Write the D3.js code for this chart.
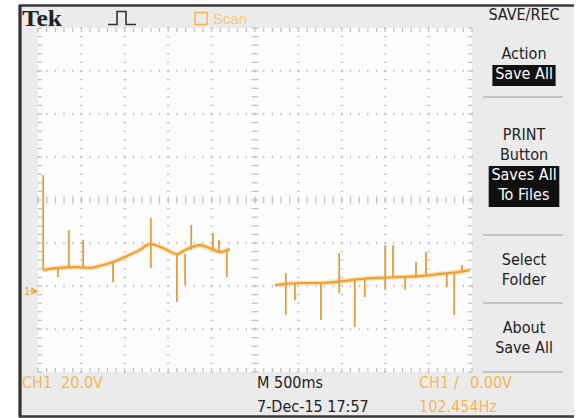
<!DOCTYPE html>
<html>
<head>
<meta charset="utf-8">
<script src="https://cdn.jsdelivr.net/npm/d3@7"></script>
<style>
  html, body { margin: 0; padding: 0; background: #fff; }
  svg { display: block; }
</style>
</head>
<body>
<div id="scope"></div>
<script>

// trace, in graticule divisions (time 0..10, volts -4..4)
var seg1Time = [0.12, 0.46, 0.90, 1.20, 1.43, 1.73, 2.05, 2.35, 2.58, 2.81, 2.97, 3.20, 3.39, 3.57, 3.73, 3.96, 4.19, 4.42];
var seg1Volt = [-1.63, -1.58, -1.56, -1.58, -1.53, -1.44, -1.30, -1.16, -1.02, -1.09, -1.16, -1.26, -1.16, -1.09, -1.05, -1.12, -1.21, -1.14];
var seg2Time = [5.46, 6.04, 6.50, 7.07, 7.42, 7.88, 8.34, 8.80, 9.26, 9.72, 9.95];
var seg2Volt = [-1.98, -1.93, -1.93, -1.88, -1.84, -1.81, -1.79, -1.77, -1.72, -1.67, -1.63];

// glitches: time, top, bottom
var spikeTime   = [0.12, 0.46, 0.71, 1.04, 1.73, 2.60, 3.20, 3.39, 3.53, 4.03, 4.17, 4.35,
                   5.71, 5.92, 6.52, 6.94, 7.30, 7.53, 8.00, 8.18, 8.46, 8.71, 8.94, 9.42, 9.59, 9.77];
var spikeTop    = [0.58, -1.58, -0.70, -0.93, -1.44, -0.42, -1.26, -1.26, -0.58, -0.77, -0.93, -1.16,
                   -1.70, -1.93, -1.93, -1.23, -1.84, -1.84, -1.05, -1.05, -1.79, -1.44, -1.21, -1.72, -1.72, -1.51];
var spikeBottom = [-1.63, -1.79, -1.58, -1.58, -1.91, -1.58, -2.37, -1.98, -1.16, -1.14, -1.21, -1.79,
                   -2.67, -2.33, -2.79, -2.16, -2.95, -2.26, -2.09, -1.79, -2.09, -1.77, -1.77, -2.02, -2.67, -1.67];

var groundLevel = -2.12;

var menuTitle = 'SAVE/REC';
var menuItems = [
    { lines: ['Action'], boxed: ['Save All'] },
    { lines: ['PRINT', 'Button'], boxed: ['Saves All', 'To Files'] },
    { lines: ['Select', 'Folder'], boxed: [] },
    { lines: ['About', 'Save All'], boxed: [] }
];

var chLabel = ['CH1', '20.0V'];
var timeBase = 'M 500ms';
var dateStamp = '7-Dec-15 17:57';
var trigLabel = ['CH1', '/', '0.00V'];
var freqLabel = '102.454Hz';

var width = 577,
    height = 418;

var orange = '#f0a032',
    paleOrange = '#f6b656',
    dotGrey = '#bdbdbd';

var svg = d3.select('#scope').append('svg')
    .attr('width', width)
    .attr('height', height);

/* frame + panel */
svg.append('rect')
    .attr('x', 19).attr('y', 5)
    .attr('width', 555).attr('height', 412)
    .attr('fill', '#ebebeb');

svg.append('path')
    .attr('d', 'M574,5.5H20V416.5H574')
    .attr('fill', 'none')
    .attr('stroke', '#3a3a3a')
    .attr('stroke-width', 2.5);

svg.append('line')
    .attr('x1', 20).attr('x2', 20).attr('y1', 5).attr('y2', 417)
    .attr('stroke', '#333').attr('stroke-width', 3);

/* graticule */
var x = d3.scaleLinear().domain([0, 10]).range([38, 472]);
var y = d3.scaleLinear().domain([-4, 4]).range([372, 28]);

svg.append('rect')
    .attr('x', x(0)).attr('y', y(4))
    .attr('width', x(10) - x(0)).attr('height', y(-4) - y(4))
    .attr('fill', '#fdfdfd');

var grid = svg.append('g').attr('fill', dotGrey);
var minorX = d3.range(0, 50.5).map(function(d) { return d / 5; });
var minorY = d3.range(0, 40.5).map(function(d) { return d / 5 - 4; });

// vertical lines
d3.range(0, 11).forEach(function(i) {
    var len = (i === 5) ? 7 : (i === 0 || i === 10) ? 4 : 2.5;
    grid.selectAll(null).data(minorY).enter().append('rect')
        .attr('x', function() {
            if (i === 0) return x(i);
            if (i === 10) return x(i) - len;
            return x(i) - len / 2;
        })
        .attr('y', function(d) { return y(d) - 0.6; })
        .attr('width', len)
        .attr('height', 1.2);
});

// horizontal lines
d3.range(-4, 5).forEach(function(j) {
    var len = (j === 0) ? 7 : (j === -4 || j === 4) ? 4 : 2.5;
    grid.selectAll(null).data(minorX).enter().append('rect')
        .attr('x', function(d) { return x(d) - 0.6; })
        .attr('y', function() {
            if (j === 4) return y(j);
            if (j === -4) return y(j) - len;
            return y(j) - len / 2;
        })
        .attr('width', 1.2)
        .attr('height', len);
});

/* trace */
var line = d3.line()
    .x(function(d) { return x(d[0]); })
    .y(function(d) { return y(d[1]); })
    .curve(d3.curveMonotoneX);

var segs = [d3.zip(seg1Time, seg1Volt), d3.zip(seg2Time, seg2Volt)];

var trace = svg.append('g');

trace.selectAll('.glow').data(segs).enter().append('path')
    .attr('d', line)
    .attr('fill', 'none')
    .attr('stroke', '#fbd79c')
    .attr('stroke-width', 5)
    .attr('stroke-opacity', 0.7);

trace.selectAll('.spike').data(spikeTime).enter().append('line')
    .attr('x1', function(d) { return x(d); })
    .attr('x2', function(d) { return x(d); })
    .attr('y1', function(d, i) { return y(spikeTop[i]); })
    .attr('y2', function(d, i) { return y(spikeBottom[i]); })
    .attr('stroke', '#e39c3a')
    .attr('stroke-width', 1.8);

trace.selectAll('.seg').data(segs).enter().append('path')
    .attr('d', line)
    .attr('fill', 'none')
    .attr('stroke', orange)
    .attr('stroke-width', 2.2);

/* ground marker */
svg.append('text')
    .attr('x', 24).attr('y', y(groundLevel) + 4)
    .attr('font-family', 'Liberation Sans, sans-serif')
    .attr('font-size', 11)
    .attr('fill', orange)
    .text('1');
svg.append('path')
    .attr('d', 'M31,' + (y(groundLevel) - 3) + 'L37,' + y(groundLevel) + 'L31,' + (y(groundLevel) + 3) + 'M30,' + y(groundLevel) + 'L37,' + y(groundLevel))
    .attr('fill', 'none')
    .attr('stroke', orange)
    .attr('stroke-width', 1.3);

/* top bar */
svg.append('text')
    .attr('x', 22).attr('y', 26)
    .attr('font-family', 'Liberation Serif, serif')
    .attr('font-weight', 'bold')
    .attr('font-size', 24)
    .attr('textLength', 40)
    .attr('lengthAdjust', 'spacingAndGlyphs')
    .attr('fill', '#222')
    .text('Tek');

svg.append('path')
    .attr('d', 'M108,24.5H117V11.5H126V24.5H136')
    .attr('fill', 'none')
    .attr('stroke', '#333')
    .attr('stroke-width', 1.6);

svg.append('rect')
    .attr('x', 195).attr('y', 12.5)
    .attr('width', 12).attr('height', 12)
    .attr('fill', 'none')
    .attr('stroke', paleOrange)
    .attr('stroke-width', 1.6);

svg.append('text')
    .attr('x', 213).attr('y', 24)
    .attr('font-family', 'Liberation Sans, sans-serif')
    .attr('font-size', 15)
    .attr('fill', '#f8c878')
    .text('Scan');

/* menu */
var font = 'Liberation Sans Narrow, DejaVu Sans Condensed, Liberation Sans, sans-serif';
var menu = svg.append('g')
    .attr('font-family', font)
    .attr('font-size', 16)
    .attr('text-anchor', 'middle');

var menuX = 524;

menu.append('text')
    .attr('x', menuX).attr('y', 20)
    .attr('fill', '#222')
    .text(menuTitle);

var itemTops = [59, 140, 265, 333];
var separators = [97, 235, 303, 372];

menuItems.forEach(function(item, k) {
    var base = itemTops[k];
    item.lines.forEach(function(t, i) {
        menu.append('text')
            .attr('x', menuX).attr('y', base + i * 20)
            .attr('fill', '#222')
            .text(t);
    });
    if (item.boxed.length) {
        var by = base + item.lines.length * 20;
        var boxW = d3.max(item.boxed, function(t) { return t.length; }) * 7.4;
        menu.append('rect')
            .attr('x', menuX - boxW / 2 - 2).attr('y', by - 14)
            .attr('width', boxW + 4).attr('height', item.boxed.length * 20 + 1)
            .attr('fill', '#111');
        item.boxed.forEach(function(t, i) {
            menu.append('text')
                .attr('x', menuX).attr('y', by + i * 20)
                .attr('fill', '#fff')
                .text(t);
        });
    }
});

menu.selectAll('.sep').data(separators).enter().append('line')
    .attr('x1', 483).attr('x2', 563)
    .attr('y1', function(d) { return d; })
    .attr('y2', function(d) { return d; })
    .attr('stroke', '#c4c4c4')
    .attr('stroke-width', 2);

/* readouts */
var readout = svg.append('g')
    .attr('font-family', font)
    .attr('font-size', 16);

readout.append('text').attr('x', 22).attr('y', 388).attr('fill', paleOrange).text(chLabel[0]);
readout.append('text').attr('x', 61).attr('y', 388).attr('fill', paleOrange).text(chLabel[1]);
readout.append('text').attr('x', 257).attr('y', 388).attr('fill', '#222').text(timeBase);
readout.append('text').attr('x', 257).attr('y', 412).attr('fill', '#222').text(dateStamp);
readout.append('text').attr('x', 419).attr('y', 388).attr('fill', paleOrange).text(trigLabel[0]);
readout.append('text').attr('x', 454).attr('y', 388).attr('fill', paleOrange).text(trigLabel[1]);
readout.append('text').attr('x', 470).attr('y', 388).attr('fill', paleOrange).text(trigLabel[2]);
readout.append('text').attr('x', 419).attr('y', 412).attr('fill', paleOrange).text(freqLabel);

</script>
</body>
</html>
